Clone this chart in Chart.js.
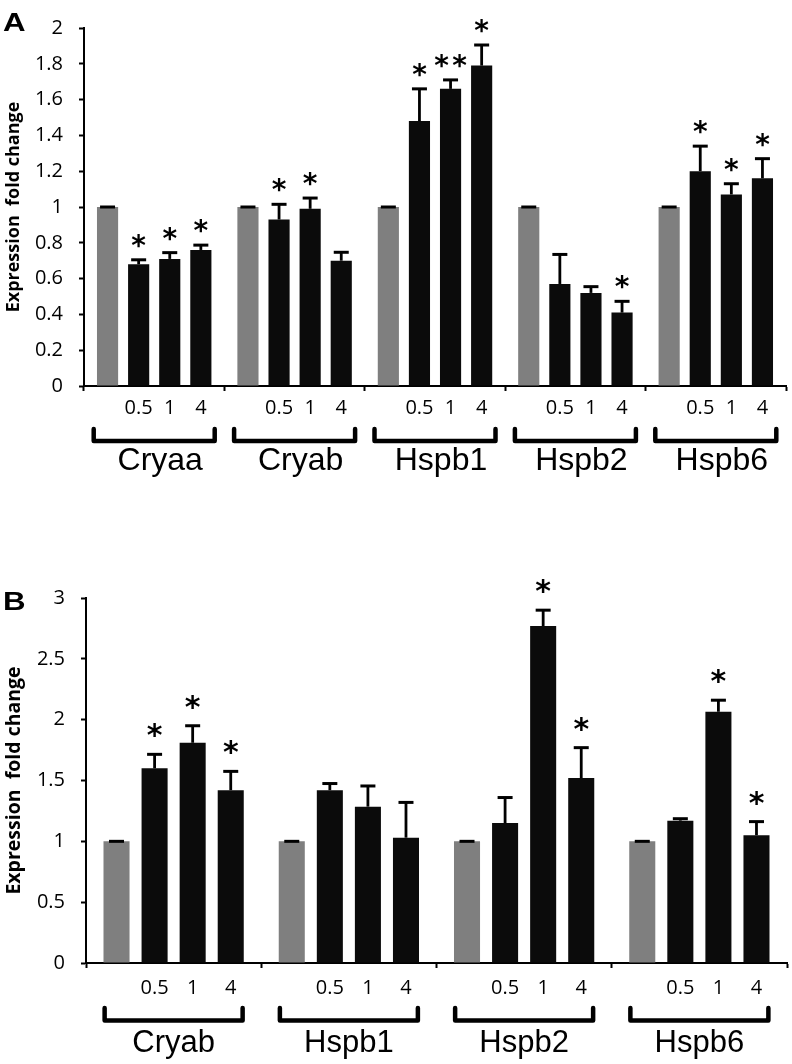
<!DOCTYPE html>
<html>
<head>
<meta charset="utf-8">
<script src="https://cdn.jsdelivr.net/npm/chart.js@4/dist/chart.umd.min.js"></script>
<style>
  html, body { margin: 0; padding: 0; background: #fff; width: 792px; height: 1064px; overflow: hidden; }
  .wrap { position: absolute; left: 0; width: 792px; }
  .panel { position: absolute; left: 3px; font-family: "Liberation Sans", Arial, sans-serif; font-weight: bold; font-size: 25px; line-height: 1; color: #000; transform: scaleX(1.25); transform-origin: left top; }
</style>
</head>
<body>
<div class="wrap" style="top:0;height:500px"><canvas id="chartA" width="792" height="500"></canvas></div>
<div class="wrap" style="top:560px;height:504px"><canvas id="chartB" width="792" height="504"></canvas></div>
<div class="panel" style="top:10px">A</div>
<div class="panel" style="top:589px">B</div>
<script>
// ---------- Data: panel A ----------
const genesA = ['Cryaa', 'Cryab', 'Hspb1', 'Hspb2', 'Hspb6'];
const ctrlA = [1, 1, 1, 1, 1];
const dose05A = [0.68, 0.93, 1.48, 0.57, 1.20];
const dose1A = [0.71, 0.99, 1.66, 0.52, 1.07];
const dose4A = [0.76, 0.70, 1.79, 0.41, 1.16];
const errCtrlA = [0, 0, 0, 0, 0];
const err05A = [0.025, 0.085, 0.18, 0.165, 0.14];
const err1A = [0.035, 0.06, 0.05, 0.035, 0.06];
const err4A = [0.027, 0.047, 0.115, 0.063, 0.11];
const sig05A = ['*', '*', '*', '', '*'];
const sig1A = ['*', '*', '**', '', '*'];
const sig4A = ['*', '', '*', '*', '*'];
const yTicksA = [0, 0.2, 0.4, 0.6, 0.8, 1, 1.2, 1.4, 1.6, 1.8, 2];

// ---------- Data: panel B ----------
const genesB = ['Cryab', 'Hspb1', 'Hspb2', 'Hspb6'];
const ctrlB = [1, 1, 1, 1];
const dose05B = [1.60, 1.42, 1.15, 1.17];
const dose1B = [1.81, 1.285, 2.77, 2.065];
const dose4B = [1.42, 1.03, 1.52, 1.05];
const errCtrlB = [0, 0, 0, 0];
const err05B = [0.115, 0.055, 0.21, 0.016];
const err1B = [0.14, 0.17, 0.13, 0.095];
const err4B = [0.155, 0.29, 0.25, 0.112];
const sig05B = ['*', '', '', ''];
const sig1B = ['*', '', '*', '*'];
const sig4B = ['*', '', '*', '*'];
const yTicksB = [0, 0.5, 1, 1.5, 2, 2.5, 3];

const doseLabels = ['', '0.5', '1', '4'];
const yTitle = 'Expression  fold change';

const GRAY = '#7f7f7f';
const BLACK = '#0b0b0b';

const decorPlugin = {
  id: 'decor',
  afterDatasetsDraw(chart, args, st) {
    const ctx = chart.ctx;
    const ys = chart.scales.y;
    const xs = chart.scales.x;
    const axisY = chart.chartArea.bottom;
    ctx.save();
    chart.data.datasets.forEach((ds, di) => {
      const meta = chart.getDatasetMeta(di);
      meta.data.forEach((bar, j) => {
        const v = ds.data[j];
        const e = ds.errors[j];
        const yTop = ys.getPixelForValue(v);
        const yErr = ys.getPixelForValue(v + e);
        // error bar (upper only)
        ctx.strokeStyle = '#000';
        ctx.lineWidth = st.errWidth;
        ctx.lineCap = 'butt';
        ctx.beginPath();
        ctx.moveTo(bar.x, yTop);
        ctx.lineTo(bar.x, yErr);
        ctx.stroke();
        ctx.lineWidth = st.capWidth;
        ctx.beginPath();
        ctx.moveTo(bar.x - st.cap / 2, yErr);
        ctx.lineTo(bar.x + st.cap / 2, yErr);
        ctx.stroke();
        // significance marks
        const s = ds.sig[j];
        if (s) {
          ctx.font = st.starFont;
          ctx.fillStyle = '#000';
          ctx.textAlign = 'center';
          ctx.textBaseline = 'alphabetic';
          const m = ctx.measureText('*');
          const baseY = yErr - st.starGap - m.actualBoundingBoxDescent;
          const n = s.length;
          for (let k = 0; k < n; k++) {
            const off = (k - (n - 1) / 2) * st.starSpacing;
            ctx.fillText('*', bar.x + off, baseY);
          }
        }
        // dose label under the bar
        if (ds.dose) {
          ctx.font = st.doseFont;
          ctx.fillStyle = '#000';
          ctx.textAlign = 'center';
          ctx.textBaseline = 'middle';
          ctx.fillText(ds.dose, bar.x, axisY + st.doseOffset);
        }
      });
    });
    // brackets and gene names
    chart.data.labels.forEach((lab, j) => {
      const cx = xs.getPixelForValue(j);
      ctx.strokeStyle = '#000';
      ctx.lineWidth = st.bracketWidth;
      ctx.lineJoin = 'round';
      ctx.lineCap = 'round';
      ctx.beginPath();
      ctx.moveTo(cx - st.bracketHalf, axisY + st.bracketTop);
      ctx.lineTo(cx - st.bracketHalf, axisY + st.bracketBottom);
      ctx.lineTo(cx + st.bracketHalf, axisY + st.bracketBottom);
      ctx.lineTo(cx + st.bracketHalf, axisY + st.bracketTop);
      ctx.stroke();
      ctx.font = st.geneFont;
      ctx.fillStyle = '#000';
      ctx.textAlign = 'center';
      ctx.textBaseline = 'alphabetic';
      ctx.fillText(lab, cx + st.geneShift, axisY + st.geneBaseline);
    });
    ctx.restore();
  }
};

function makeChart(id, labels, series, errs, sigs, yMax, yTicks, layout, style) {
  const colors = [GRAY, BLACK, BLACK, BLACK];
  const datasets = series.map((d, i) => ({
    data: d,
    errors: errs[i],
    sig: sigs[i],
    dose: doseLabels[i],
    backgroundColor: colors[i],
    borderWidth: 0,
    categoryPercentage: layout.catPct,
    barPercentage: layout.barPct
  }));
  return new Chart(document.getElementById(id), {
    type: 'bar',
    data: { labels: labels, datasets: datasets },
    plugins: [decorPlugin],
    options: {
      responsive: false,
      animation: false,
      devicePixelRatio: 1,
      layout: { padding: { top: layout.top, left: 0, right: layout.right, bottom: 0 } },
      plugins: {
        legend: { display: false },
        tooltip: { enabled: false },
        decor: style
      },
      scales: {
        x: {
          type: 'category',
          ticks: { display: false },
          grid: { display: true, drawOnChartArea: false, drawTicks: true, tickLength: 5, tickWidth: 2, tickColor: '#000', offset: true },
          border: { display: true, color: '#000', width: 2 },
          afterFit: (s) => { s.height = layout.xHeight; }
        },
        y: {
          min: 0,
          max: yMax,
          afterBuildTicks: (s) => { s.ticks = yTicks.map(v => ({ value: v })); },
          ticks: {
            color: '#000',
            padding: 16,
            font: { family: 'Open Sans', size: 20 },
            callback: (v) => String(v)
          },
          grid: { display: true, drawOnChartArea: false, drawTicks: true, tickLength: 5, tickWidth: 2, tickColor: '#000' },
          border: { display: true, color: '#000', width: 2 },
          title: {
            display: true,
            text: yTitle,
            color: '#000',
            font: { family: 'Open Sans', weight: 'bold', size: layout.titleSize },
            padding: { top: 3, bottom: 0 }
          },
          afterFit: (s) => { s.width = layout.yWidth; }
        }
      }
    }
  });
}

makeChart('chartA', genesA,
  [ctrlA, dose05A, dose1A, dose4A],
  [errCtrlA, err05A, err1A, err4A],
  [['', '', '', '', ''], sig05A, sig1A, sig4A],
  2, yTicksA,
  { top: 17, right: 6, xHeight: 114, yWidth: 84, catPct: 0.886, barPct: 0.68, titleSize: 18 },
  { errWidth: 2.8, capWidth: 3, cap: 15, starFont: 'bold 28px "DejaVu Sans"', starGap: 12, starSpacing: 18,
    doseFont: '20px "Open Sans"', doseOffset: 22,
    bracketWidth: 4.5, bracketHalf: 60.5, bracketTop: 43, bracketBottom: 55,
    geneFont: '32px "Liberation Sans"', geneShift: 6, geneBaseline: 84 });

makeChart('chartB', genesB,
  [ctrlB, dose05B, dose1B, dose4B],
  [errCtrlB, err05B, err1B, err4B],
  [['', '', '', ''], sig05B, sig1B, sig4B],
  3, yTicksB,
  { top: 38, right: 5, xHeight: 101, yWidth: 86, catPct: 0.869, barPct: 0.684, titleSize: 19.5 },
  { errWidth: 2.8, capWidth: 3, cap: 15, starFont: 'bold 30px "DejaVu Sans"', starGap: 16, starSpacing: 18,
    doseFont: '20px "Open Sans"', doseOffset: 25,
    bracketWidth: 4.5, bracketHalf: 69, bracketTop: 45, bracketBottom: 57.5,
    geneFont: '31px "Liberation Sans"', geneShift: 0, geneBaseline: 89 });
</script>
</body>
</html>
